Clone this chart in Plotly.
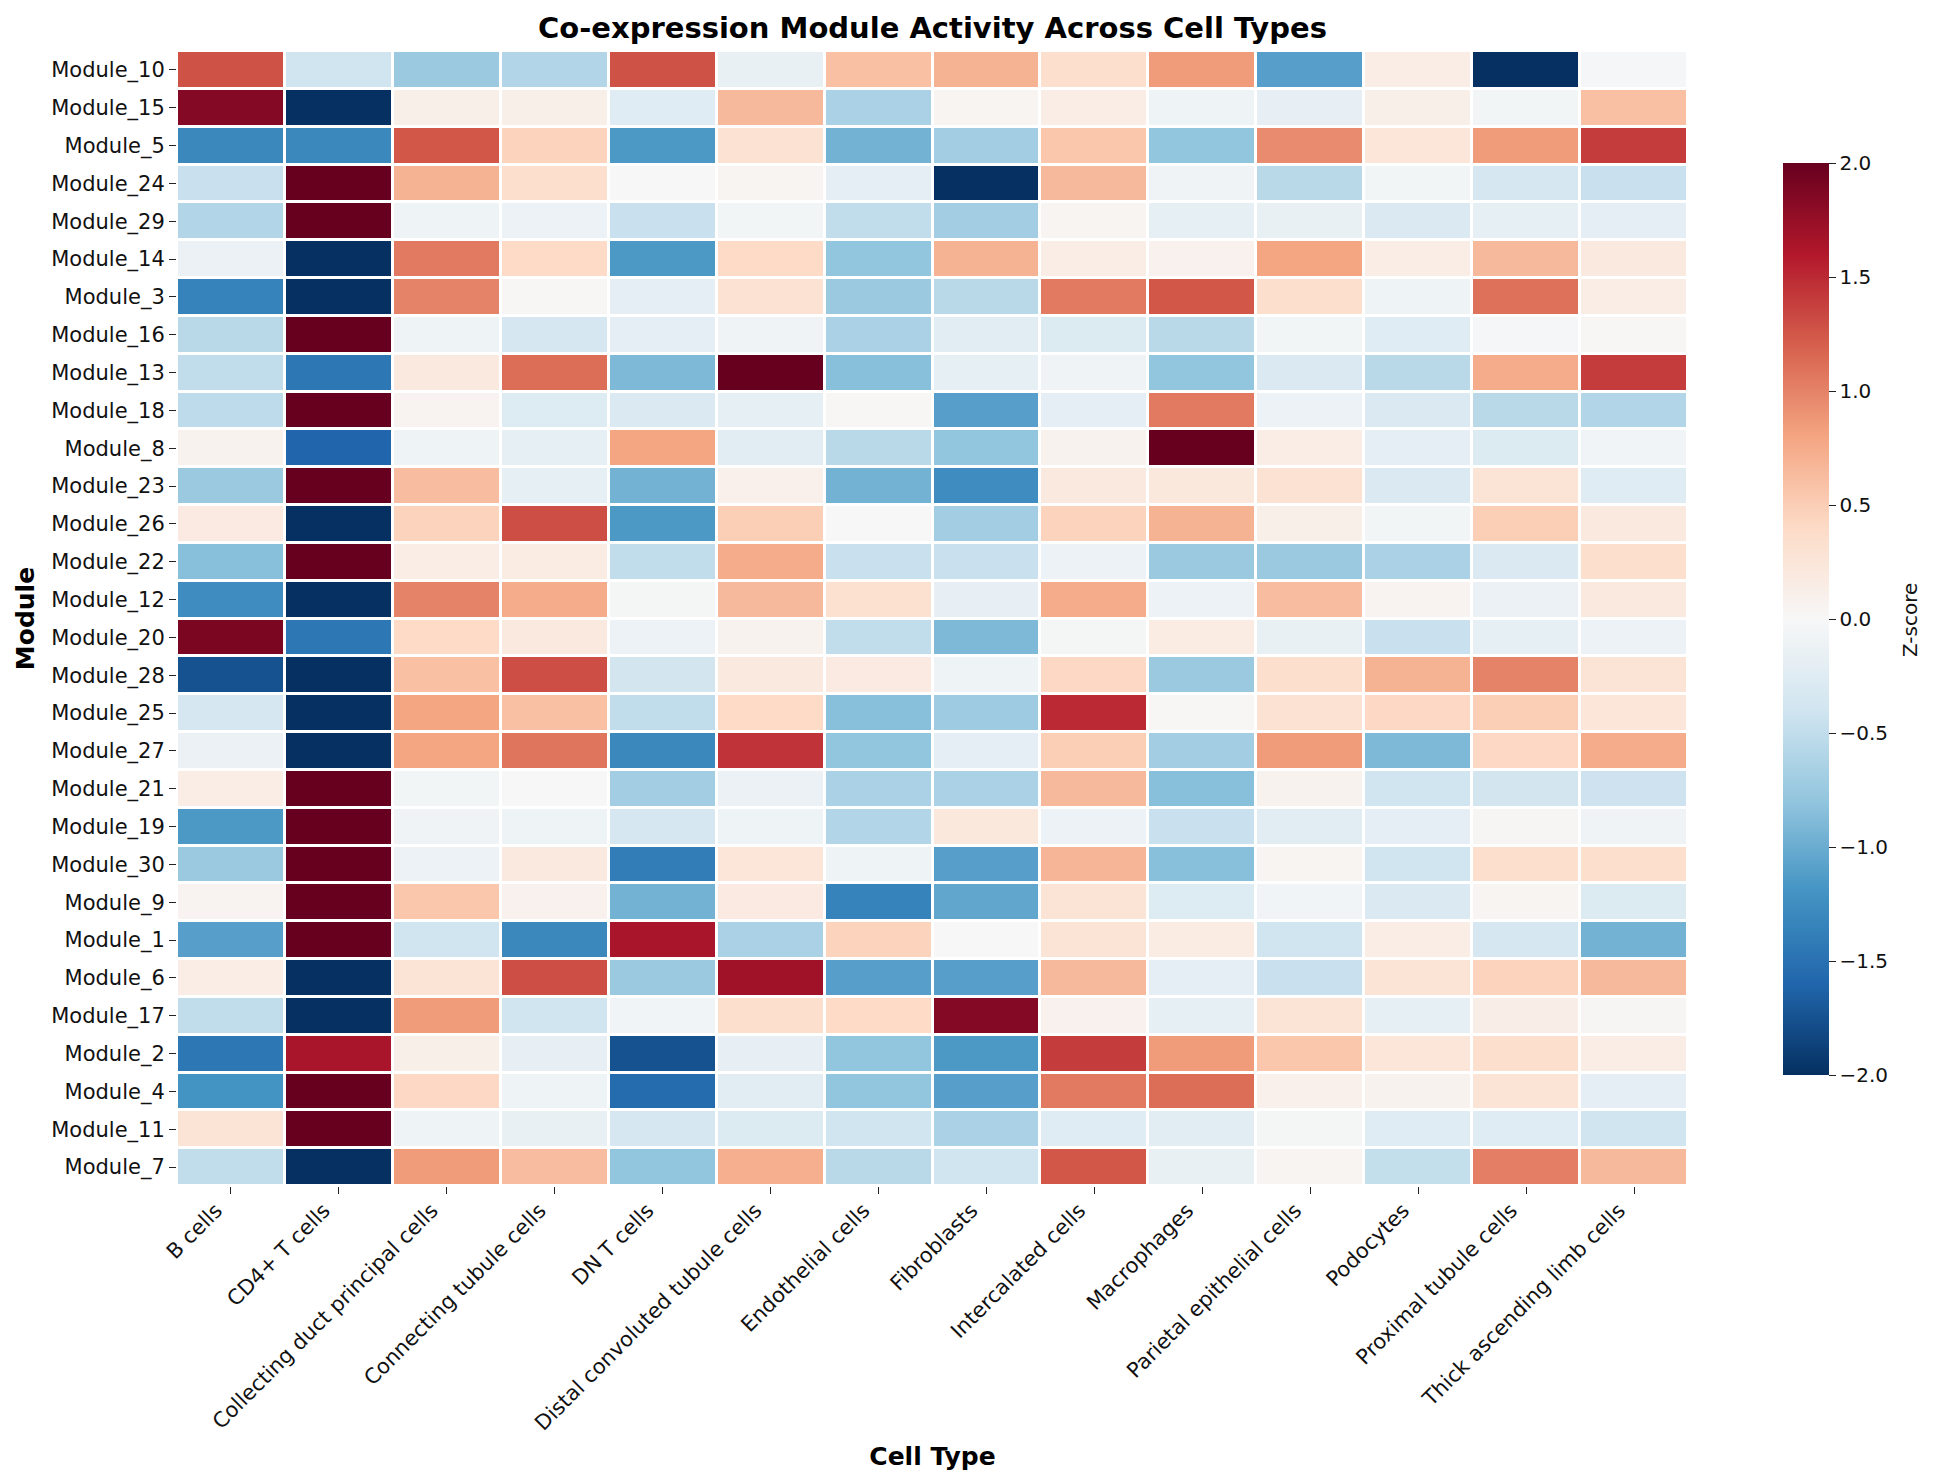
import plotly.graph_objects as go

cell_types = ["B cells", "CD4+ T cells", "Collecting duct principal cells", "Connecting tubule cells",
              "DN T cells", "Distal convoluted tubule cells", "Endothelial cells", "Fibroblasts",
              "Intercalated cells", "Macrophages", "Parietal epithelial cells", "Podocytes",
              "Proximal tubule cells", "Thick ascending limb cells"]
modules = ["Module_10", "Module_15", "Module_5", "Module_24", "Module_29", "Module_14", "Module_3", "Module_16",
           "Module_13", "Module_18", "Module_8", "Module_23", "Module_26", "Module_22", "Module_12", "Module_20",
           "Module_28", "Module_25", "Module_27", "Module_21", "Module_19", "Module_30", "Module_9", "Module_1",
           "Module_6", "Module_17", "Module_2", "Module_4", "Module_11", "Module_7"]

m10 = [1.28, -0.4, -0.75, -0.6, 1.28, -0.15, 0.6, 0.7, 0.35, 0.85, -1.1, 0.15, -2, -0.02]
m15 = [1.85, -2, 0.12, 0.12, -0.25, 0.65, -0.65, 0.05, 0.15, -0.1, -0.17, 0.12, -0.05, 0.6]
m5 = [-1.3, -1.3, 1.25, 0.45, -1.15, 0.3, -0.95, -0.7, 0.55, -0.8, 0.95, 0.25, 0.85, 1.4]
m24 = [-0.45, 2, 0.7, 0.35, 0, 0.05, -0.2, -2, 0.65, -0.08, -0.55, -0.05, -0.35, -0.45]
m29 = [-0.6, 2, -0.1, -0.12, -0.45, -0.05, -0.5, -0.7, 0.05, -0.18, -0.15, -0.3, -0.18, -0.2]
m14 = [-0.13, -2, 1.05, 0.4, -1.15, 0.4, -0.8, 0.7, 0.15, 0.08, 0.8, 0.15, 0.65, 0.2]
m3 = [-1.35, -2, 1.0, 0.02, -0.2, 0.3, -0.75, -0.55, 1.05, 1.25, 0.35, -0.1, 1.1, 0.14]
m16 = [-0.55, 2, -0.1, -0.35, -0.2, -0.08, -0.65, -0.22, -0.28, -0.55, -0.05, -0.25, -0.02, 0.02]
m13 = [-0.5, -1.45, 0.2, 1.12, -0.9, 2, -0.85, -0.18, -0.08, -0.8, -0.3, -0.55, 0.75, 1.4]
m18 = [-0.52, 2, 0.06, -0.27, -0.3, -0.18, 0.02, -1.1, -0.2, 1.05, -0.12, -0.3, -0.55, -0.6]
m8 = [0.07, -1.6, -0.1, -0.18, 0.8, -0.22, -0.55, -0.8, 0.07, 2, 0.15, -0.2, -0.28, -0.07]
m23 = [-0.75, 2, 0.62, -0.18, -0.95, 0.1, -0.95, -1.25, 0.2, 0.22, 0.3, -0.3, 0.28, -0.25]
m26 = [0.18, -2, 0.45, 1.3, -1.15, 0.5, 0.0, -0.7, 0.45, 0.7, 0.12, -0.05, 0.5, 0.2]
m22 = [-0.85, 2, 0.15, 0.17, -0.5, 0.75, -0.45, -0.45, -0.12, -0.75, -0.75, -0.65, -0.3, 0.35]
m12 = [-1.25, -2, 1.0, 0.75, -0.03, 0.65, 0.32, -0.17, 0.75, -0.12, 0.62, 0.06, -0.13, 0.2]
m20 = [1.9, -1.45, 0.4, 0.2, -0.12, 0.07, -0.5, -0.9, -0.03, 0.17, -0.15, -0.45, -0.18, -0.12]
m28 = [-1.75, -2, 0.6, 1.3, -0.38, 0.2, 0.18, -0.1, 0.42, -0.75, 0.35, 0.7, 1.0, 0.28]
m25 = [-0.35, -2, 0.8, 0.6, -0.5, 0.4, -0.85, -0.72, 1.5, 0.02, 0.3, 0.42, 0.5, 0.25]
m27 = [-0.13, -2, 0.8, 1.08, -1.3, 1.45, -0.8, -0.2, 0.5, -0.7, 0.85, -0.9, 0.42, 0.75]
m21 = [0.15, 2, -0.05, 0.0, -0.7, -0.13, -0.65, -0.65, 0.65, -0.85, 0.07, -0.4, -0.38, -0.42]
m19 = [-1.15, 2, -0.08, -0.1, -0.35, -0.1, -0.6, 0.22, -0.12, -0.45, -0.22, -0.2, 0.03, -0.08]
m30 = [-0.75, 2, -0.12, 0.2, -1.4, 0.25, -0.1, -1.1, 0.68, -0.85, 0.05, -0.4, 0.35, 0.35]
m9 = [0.06, 2, 0.55, 0.08, -0.95, 0.18, -1.35, -1.05, 0.28, -0.27, -0.07, -0.3, 0.05, -0.28]
m1 = [-1.1, 2, -0.4, -1.3, 1.65, -0.65, 0.45, 0.0, 0.28, 0.17, -0.4, 0.15, -0.35, -0.95]
m6 = [0.14, -2, 0.28, 1.3, -0.75, 1.7, -1.1, -1.1, 0.65, -0.2, -0.45, 0.28, 0.45, 0.65]
m17 = [-0.5, -2, 0.85, -0.4, -0.07, 0.35, 0.4, 1.85, 0.08, -0.18, 0.28, -0.18, 0.13, 0.03]
m2 = [-1.45, 1.65, 0.12, -0.17, -1.75, -0.17, -0.8, -1.15, 1.4, 0.85, 0.55, 0.25, 0.35, 0.15]
m4 = [-1.2, 2, 0.42, -0.1, -1.55, -0.22, -0.8, -1.1, 1.05, 1.12, 0.1, 0.07, 0.28, -0.2]
m11 = [0.28, 2, -0.1, -0.15, -0.35, -0.28, -0.4, -0.65, -0.25, -0.22, -0.03, -0.24, -0.24, -0.4]
m7 = [-0.5, -2, 0.85, 0.62, -0.8, 0.72, -0.55, -0.4, 1.25, -0.15, 0.05, -0.48, 1.02, 0.65]

z = [m10, m15, m5, m24, m29, m14, m3, m16, m13, m18, m8, m23, m26, m22, m12, m20,
     m28, m25, m27, m21, m19, m30, m9, m1, m6, m17, m2, m4, m11, m7]

rdbu_r = ["#053061", "#2166ac", "#4393c3", "#92c5de", "#d1e5f0", "#f7f7f7",
          "#fddbc7", "#f4a582", "#d6604d", "#b2182b", "#67001f"]
colorscale = [[i / 10, c] for i, c in enumerate(rdbu_r)]

OFF = 8  # the browser page keeps an 8 px body margin
W, H = 1937 - 2 * OFF, 1481 - 2 * OFF
L, R, T, B = 177 - OFF, 1688 - OFF, 51 - OFF, 1186 - OFF
FONT = "DejaVu Sans"
INK = "#111111"

fig = go.Figure(go.Heatmap(
    z=z, x=cell_types, y=modules, zmin=-2, zmax=2, colorscale=colorscale,
    xgap=3, ygap=3, hoverongaps=False,
    colorbar=dict(
        lenmode="pixels", len=912, thicknessmode="pixels", thickness=46,
        x=(1783 - OFF - L) / (R - L), xanchor="left", xpad=0,
        y=(B - (619 - OFF)) / (B - T), yanchor="middle", ypad=0,
        outlinewidth=0, ticks="outside", ticklen=7, tickwidth=1.3, tickcolor="#222222",
        tickvals=[-2, -1.5, -1, -0.5, 0, 0.5, 1, 1.5, 2], tickformat=".1f",
        tickfont=dict(family=FONT, size=20, color=INK),
    ),
))

fig.add_annotation(
    text="Z-score", textangle=-90, showarrow=False,
    xref="paper", yref="paper",
    x=(1910 - OFF - L) / (R - L), y=(B - (620 - OFF)) / (B - T),
    xanchor="center", yanchor="middle",
    font=dict(family=FONT, size=20, color=INK),
)

fig.update_layout(
    width=W, height=H, paper_bgcolor="white", plot_bgcolor="white",
    margin=dict(l=L, r=W - R, t=T, b=H - B, pad=0, autoexpand=False),
    font=dict(family=FONT, color=INK),
    title=dict(text="<b>Co-expression Module Activity Across Cell Types</b>",
               x=0.5, xref="paper", xanchor="center",
               y=1 - (28 - OFF) / H, yref="container", yanchor="middle",
               font=dict(family=FONT, size=29, color="black")),
    xaxis=dict(tickangle=-45, showgrid=False, zeroline=False, showline=False,
               ticks="outside", ticklen=7, tickwidth=1.3, tickcolor="#222222",
               ticklabelshift=-15, ticklabelstandoff=-4,
               tickfont=dict(family=FONT, size=21, color=INK),
               title=dict(text="<b>Cell Type</b>", standoff=13,
                          font=dict(family=FONT, size=25, color="black"))),
    yaxis=dict(autorange="reversed", showgrid=False, zeroline=False, showline=False,
               ticks="outside", ticklen=7, tickwidth=1.3, tickcolor="#222222",
               tickfont=dict(family=FONT, size=21, color=INK),
               title=dict(text="<b>Module</b>", standoff=9,
                          font=dict(family=FONT, size=25, color="black"))),
)

fig.write_html("out.html")
